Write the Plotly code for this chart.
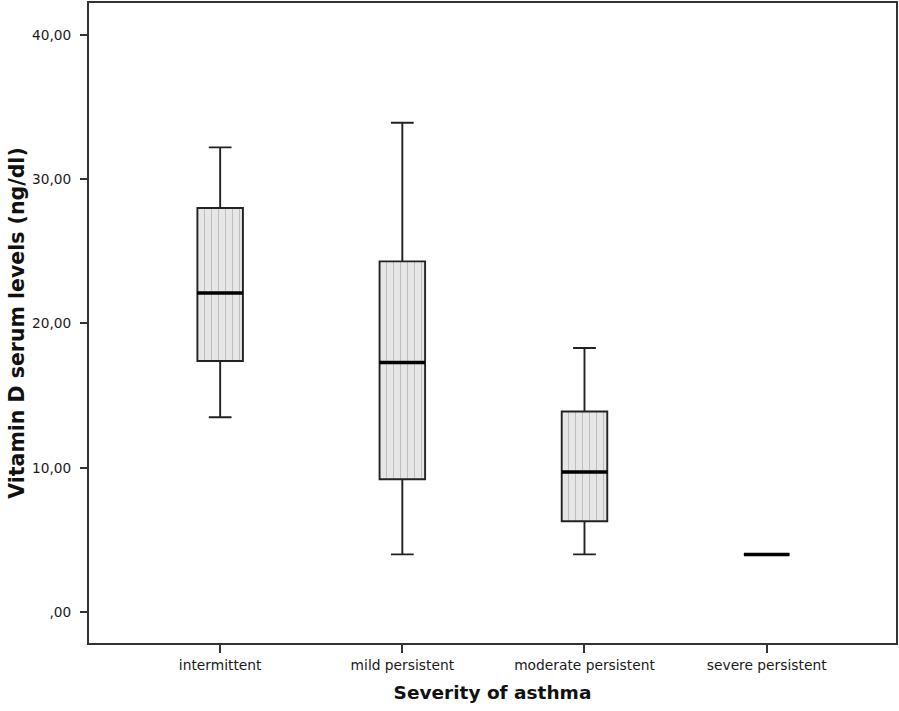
import plotly.graph_objects as go

# Vitamin D serum levels (ng/dl) by asthma severity: five-number summaries
categories = ["intermittent", "mild persistent", "moderate persistent", "severe persistent"]
lower_whisker = [13.5, 4.0, 4.0, 4.0]
q1 = [17.4, 9.2, 6.3, 4.0]
median = [22.1, 17.3, 9.7, 4.0]
q3 = [28.0, 24.3, 13.9, 4.0]
upper_whisker = [32.2, 33.9, 18.3, 4.0]

y_tickvals = [0, 10, 20, 30, 40]
y_ticktext = [",00", "10,00", "20,00", "30,00", "40,00"]

FONT = "DejaVu Sans"
BOX_W = 0.25

fig = go.Figure()

# patterned fill of the interquartile range
fig.add_trace(go.Bar(
    x=categories,
    y=[b - a for a, b in zip(q1, q3)],
    base=q1,
    width=BOX_W,
    marker=dict(
        color="#e6e6e6",
        line=dict(width=0),
        pattern=dict(shape="|", fgcolor="#959595", bgcolor="#e6e6e6",
                     size=7, solidity=0.14),
    ),
    hoverinfo="skip",
    showlegend=False,
))

# box outline and whiskers
fig.add_trace(go.Box(
    x=categories,
    q1=q1, median=median, q3=q3,
    lowerfence=lower_whisker, upperfence=upper_whisker,
    width=BOX_W,
    whiskerwidth=0.5,
    fillcolor="rgba(0,0,0,0)",
    line=dict(color="#222222", width=1.9),
    hoverinfo="skip",
    showlegend=False,
))

# heavy median bar
fig.add_trace(go.Box(
    x=categories,
    q1=median, median=median, q3=median,
    lowerfence=median, upperfence=median,
    width=BOX_W,
    whiskerwidth=0,
    fillcolor="rgba(0,0,0,0)",
    line=dict(color="#000000", width=3.5),
    hoverinfo="skip",
    showlegend=False,
))

fig.update_layout(
    width=899, height=711,
    margin=dict(l=89, r=2, t=1, b=68),
    paper_bgcolor="white",
    plot_bgcolor="white",
    barmode="overlay",
    boxmode="overlay",
    font=dict(family=FONT, color="#1a1a1a"),
    xaxis=dict(
        type="category",
        categoryorder="array",
        categoryarray=categories,
        range=[-0.72, 3.71],
        showgrid=False, zeroline=False,
        showline=True, linecolor="#333333", linewidth=2, mirror=True,
        ticks="outside", ticklen=8, tickwidth=1.5, tickcolor="#333333",
        tickfont=dict(family=FONT, size=13.8, color="#1a1a1a"),
        title=dict(text="<b>Severity of asthma</b>",
                   font=dict(family=FONT, size=18.5, color="#111111"),
                   standoff=14),
    ),
    yaxis=dict(
        range=[-2.14, 42.2],
        tickvals=y_tickvals, ticktext=y_ticktext,
        showgrid=False, zeroline=False,
        showline=True, linecolor="#333333", linewidth=2, mirror=True,
        ticks="outside", ticklen=7, tickwidth=1.5, tickcolor="#333333",
        tickfont=dict(family=FONT, size=13.7, color="#1a1a1a"),
        ticklabelstandoff=6,
        title=dict(text="<b>Vitamin D serum levels (ng/dl)</b>",
                   font=dict(family=FONT, size=20.5, color="#111111"),
                   standoff=2),
    ),
)

fig.write_html("out.html")
